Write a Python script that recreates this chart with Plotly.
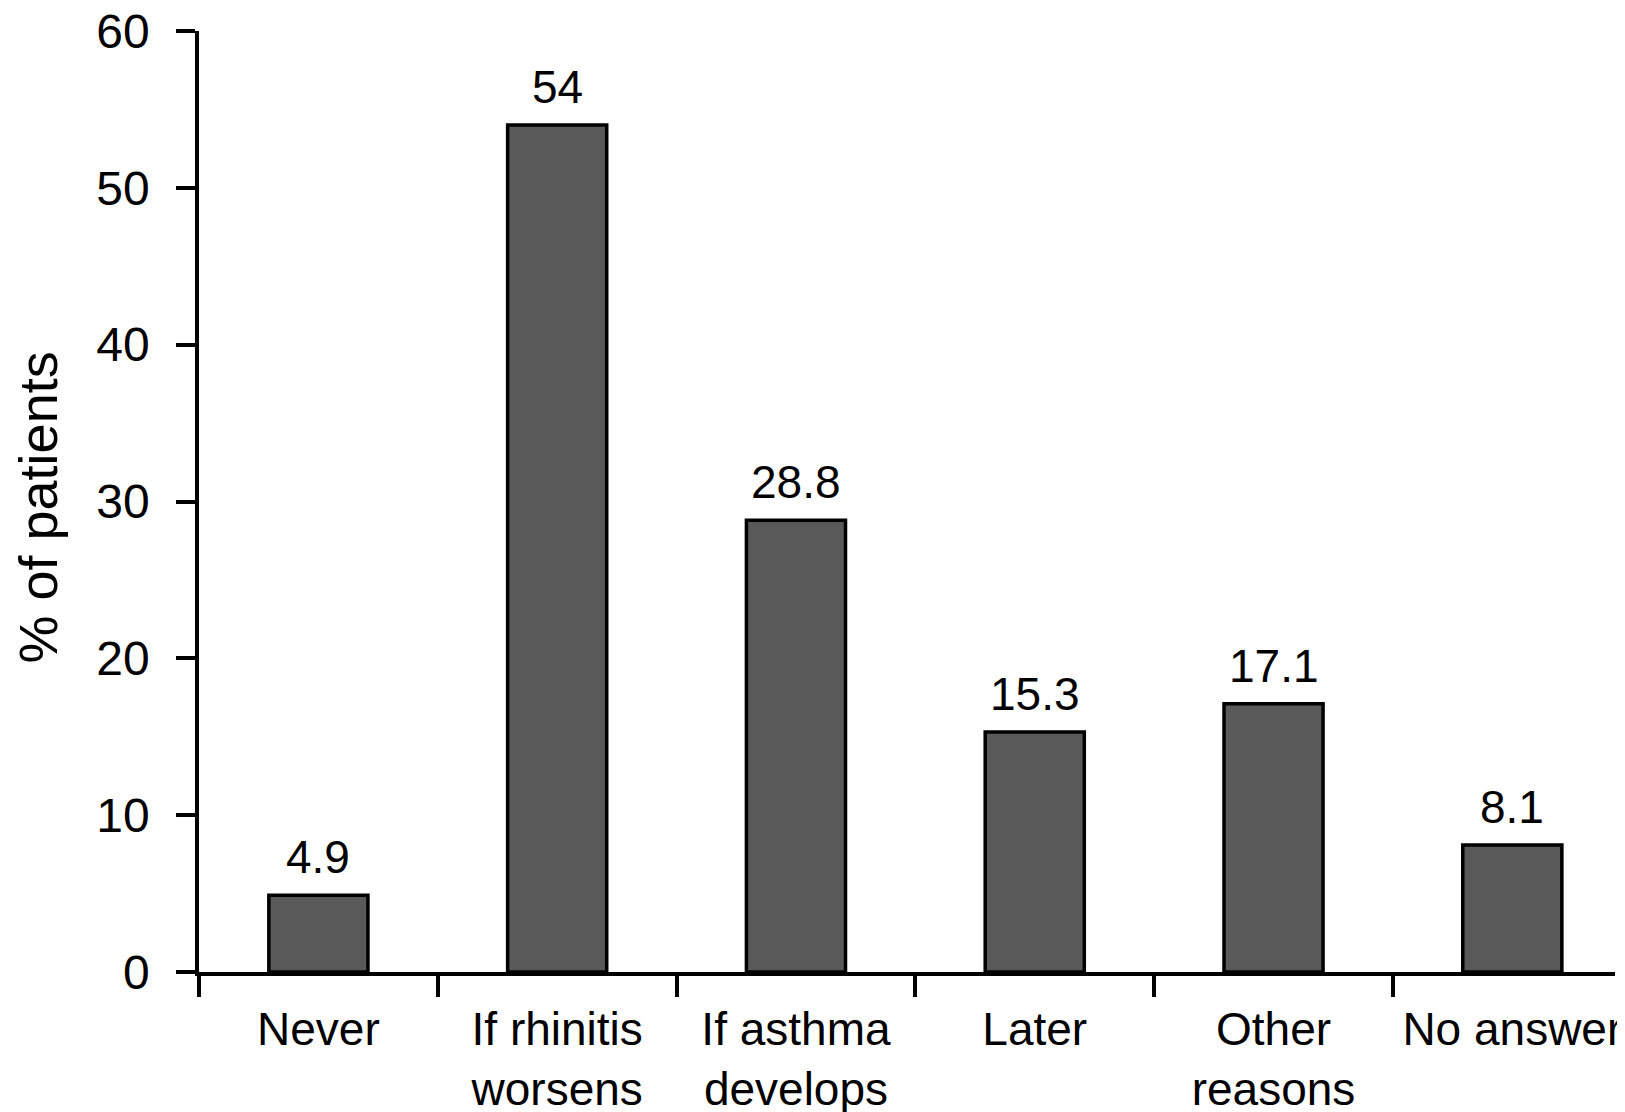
import plotly.graph_objects as go

categories = ["Never", "If rhinitis<br>worsens", "If asthma<br>develops", "Later", "Other<br>reasons", "No answer"]
values = [4.9, 54, 28.8, 15.3, 17.1, 8.1]
value_labels = ["4.9", "54", "28.8", "15.3", "17.1", "8.1"]
y_ticks = [0, 10, 20, 30, 40, 50, 60]
y_title = "% of patients"

FONT = "Liberation Sans, Arial, Helvetica, sans-serif"

fig = go.Figure()
fig.add_trace(go.Bar(
    x=categories, y=values, width=0.415,
    marker=dict(color="#595959", line=dict(color="black", width=3.5)),
    hoverinfo="skip",
))
for c, v, t in zip(categories, values, value_labels):
    fig.add_annotation(x=c, y=v, text=t, showarrow=False, yanchor="bottom",
                       yshift=10, font=dict(size=46, color="black", family=FONT))

# y-axis title
fig.add_annotation(xref="paper", yref="paper", x=0, y=0.5, text=y_title,
                   textangle=-90, showarrow=False, xanchor="center", yanchor="middle",
                   xshift=-162, yshift=-6,
                   font=dict(size=54, color="black", family=FONT))

fig.update_layout(
    width=1625, height=1112,
    margin=dict(l=191, r=18, t=23, b=148),
    paper_bgcolor="white", plot_bgcolor="white",
    showlegend=False,
    font=dict(family=FONT, size=46, color="black"),
)
fig.update_xaxes(
    type="category", range=[-0.5, 5.43], automargin=False,
    showline=True, linecolor="black", linewidth=3.5,
    ticks="outside", ticklen=21, tickwidth=3.5, tickcolor="black",
    tickson="boundaries", showgrid=False, zeroline=False,
    tickfont=dict(size=46, family=FONT, color="black"),
    ticklabelstandoff=14, ticklabeloverflow="allow",
)
fig.update_yaxes(
    range=[0, 60], tickvals=y_ticks, automargin=False,
    showline=True, linecolor="black", linewidth=3.5,
    ticks="outside", ticklen=19, tickwidth=3.5, tickcolor="black",
    showgrid=False, zeroline=False,
    tickfont=dict(size=48, family=FONT, color="black"),
    ticklabelstandoff=17, ticklabeloverflow="allow",
)

fig.write_html("out.html")
